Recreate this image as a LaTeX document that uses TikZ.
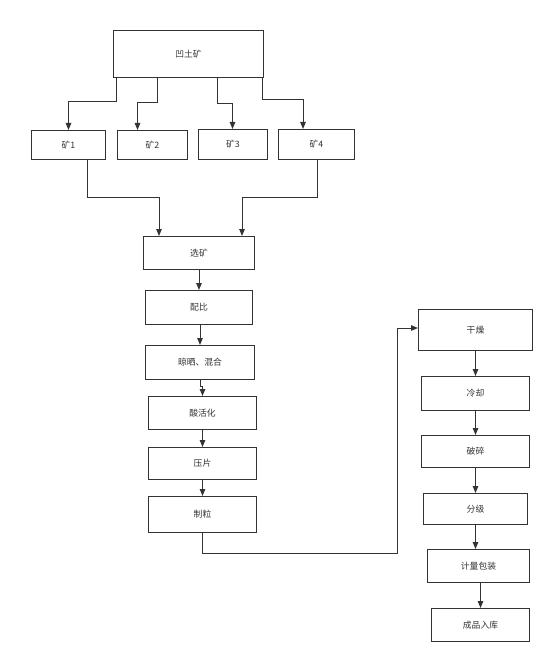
\documentclass[tikz,border=0pt]{standalone}
\usepackage{fontspec}
\newfontfamily\cjk{Noto Sans CJK SC}
\usetikzlibrary{arrows.meta}
\definecolor{ln}{HTML}{333333}
\begin{document}
\begin{tikzpicture}[x=1pt,y=-1pt,
  box/.style={draw=ln,line width=1pt,inner sep=0pt,font=\cjk\fontsize{8.8}{10}\selectfont,text=ln},
  arr/.style={draw=ln,line width=1pt,-{Triangle[length=7pt,width=5.5pt]}}]
\useasboundingbox (0,0) rectangle (554,663);
\node[box,minimum width=150pt,minimum height=47pt] (top) at (188.5,54) {凹土矿};
\node[box,minimum width=74pt,minimum height=29pt] (k1) at (68.5,145) {矿1};
\node[box,minimum width=70pt,minimum height=29pt] (k2) at (152.5,145) {矿2};
\node[box,minimum width=69pt,minimum height=30pt] (k3) at (233,144.5) {矿3};
\node[box,minimum width=76pt,minimum height=30pt] (k4) at (316.5,144.5) {矿4};
\node[box,minimum width=111pt,minimum height=33pt] (xk) at (199,253) {选矿};
\node[box,minimum width=107pt,minimum height=34pt] (pb) at (199,307.5) {配比};
\node[box,minimum width=109pt,minimum height=34pt] (lh) at (200,362.5) {晾晒、混合};
\node[box,minimum width=108pt,minimum height=33pt] (sh) at (202.5,413) {酸活化};
\node[box,minimum width=108pt,minimum height=32pt] (yp) at (202.5,463.5) {压片};
\node[box,minimum width=108pt,minimum height=36pt] (zl) at (202.5,514.5) {制粒};
\node[box,minimum width=114pt,minimum height=41pt] (gz) at (475.5,330) {干燥};
\node[box,minimum width=108pt,minimum height=34pt] (lq) at (475.5,393.5) {冷却};
\node[box,minimum width=108pt,minimum height=32pt] (ps) at (475.5,451.5) {破碎};
\node[box,minimum width=104pt,minimum height=31pt] (fj) at (475.5,509) {分级};
\node[box,minimum width=102pt,minimum height=33pt] (jl) at (478.5,566) {计量包装};
\node[box,minimum width=98pt,minimum height=33pt] (cp) at (480.5,625) {成品入库};
% top to ores
\draw[arr] ([xshift=-72.5]top.south) -- ++(0,24) -| (k1.north);
\draw[arr] ([xshift=-31.5]top.south) -- ++(0,25) -| ([xshift=-15]k2.north);
\draw[arr] ([xshift=28.5]top.south) -- ++(0,26) -| ([xshift=-0.5]k3.north);
\draw[arr] ([xshift=73.5]top.south) -- ++(0,22) -| ([xshift=-13.5]k4.north);
% ores to selection
\draw[arr] ([xshift=18.5]k1.south) -- ++(0,37) -| ([xshift=-40]xk.north);
\draw[arr] ([xshift=0.5]k4.south) -- ++(0,37) -| ([xshift=43]xk.north);
% left column
\draw[arr] (xk.south) -- (pb.north);
\draw[arr] ([xshift=1]pb.south) -- (lh.north);
\draw[arr] (lh.south) -- ++(0,6) -| (sh.north);
\draw[arr] (sh.south) -- (yp.north);
\draw[arr] (yp.south) -- (zl.north);
\draw[arr] (zl.south) -- ++(0,20) -| ([xshift=-21,yshift=2]gz.west) -- ([yshift=2]gz.west);
% right column
\draw[arr] (gz.south) -- (lq.north);
\draw[arr] (lq.south) -- (ps.north);
\draw[arr] (ps.south) -- (fj.north);
\draw[arr] (fj.south) -- (fj.south |- jl.north);
\draw[arr] (cp.north |- jl.south) -- (cp.north);
\end{tikzpicture}
\end{document}
